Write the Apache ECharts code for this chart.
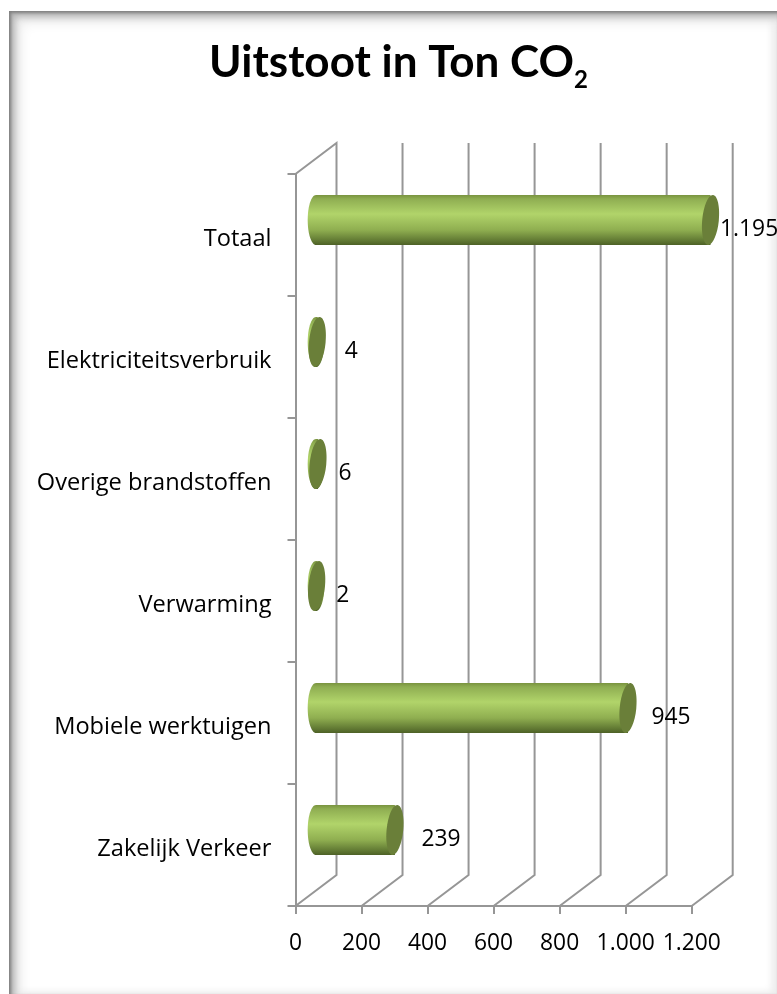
<!DOCTYPE html>
<html>
<head>
<meta charset="utf-8">
<title>Uitstoot in Ton CO2</title>
<style>
  html, body { margin: 0; padding: 0; background: #fff; overflow: hidden; }
  #frame {
    position: absolute; left: 9px; top: 11px; width: 768px; height: 983px;
    box-shadow: inset 2px 2px 3px #808080, inset 6px 6px 7px #b4b4b4, inset 12px 12px 12px #ececec, inset -6px -3px 6px #eeeeee;
  }
  #chart { position: absolute; left: 0; top: 0; width: 777px; height: 994px; }
</style>
<script src="https://cdn.jsdelivr.net/npm/echarts@6/dist/echarts.min.js"></script>
</head>
<body>
<div id="frame"></div>
<div id="chart"></div>
<script>
const categories = ['Zakelijk Verkeer', 'Mobiele werktuigen', 'Verwarming', 'Overige brandstoffen', 'Elektriciteitsverbruik', 'Totaal'];
const uitstoot = [239, 945, 2, 6, 4, 1195];
const xTicks = [0, 200, 400, 600, 800, 1000, 1200];

// hand placed labels in the original, px right of the value
const labelGap = [47, 44, 40, 41, 48, 30];

const FONT = '"Open Sans"';
const TITLE_FONT = 'Lato';
const DEPTH_X = 41;
const DEPTH_Y = 31;
const LINE = '#969696';

const fmt = v => String(v).replace(/\B(?=(\d{3})+$)/g, '.');

function renderWall(params, api) {
  let cs = params.coordSys;
  let x = api.coord([api.value(0), 0])[0];
  let bottom = cs.y + cs.height;
  let top = cs.y;
  let points = [[x, bottom], [x + DEPTH_X, bottom - DEPTH_Y], [x + DEPTH_X, top - DEPTH_Y]];
  if (api.value(0) === 0) points.push([x, top]);
  return {
    type: 'polyline',
    shape: { points: points },
    style: { stroke: LINE, lineWidth: 2, fill: null }
  };
}

function renderBar(params, api) {
  let start = api.coord([0, api.value(1)]);
  let end = api.coord([api.value(0), api.value(1)]);
  let band = api.size([0, 1])[1];
  let h = band * 0.41;
  let ry = h / 2;
  let rx = 8.3;
  let cy = start[1] - DEPTH_Y / 2 + 0.5;
  let x0 = start[0] + DEPTH_X / 2;
  let x1 = end[0] + DEPTH_X / 2;
  let body = new echarts.graphic.LinearGradient(0, 0, 0, 1, [
    { offset: 0, color: '#79933f' },
    { offset: 0.08, color: '#8fae52' },
    { offset: 0.38, color: '#b1d46a' },
    { offset: 0.7, color: '#8fae50' },
    { offset: 0.92, color: '#5f7732' },
    { offset: 1, color: '#4d6126' }
  ]);
  return {
    type: 'group',
    children: [
      { type: 'ellipse', shape: { cx: x0, cy: cy, rx: rx, ry: ry }, style: { fill: body } },
      { type: 'rect', shape: { x: x0, y: cy - ry, width: x1 - x0, height: h }, style: { fill: body } },
      {
        type: 'ellipse', x: x1, y: cy, rotation: -0.1,
        shape: { cx: 0, cy: 0, rx: rx, ry: ry },
        style: { fill: '#6a7f39' }
      },
      {
        type: 'text',
        style: {
          x: end[0] + labelGap[params.dataIndex], y: start[1] - 5,
          text: fmt(api.value(0)),
          font: '22.8px ' + FONT, fill: '#000',
          align: 'left', verticalAlign: 'middle'
        }
      }
    ]
  };
}

let chart = echarts.init(document.querySelector('#chart'), null, { renderer: 'canvas' });
let option = {
  animation: false,
  backgroundColor: 'transparent',
  title: {
    text: '{a|Uitstoot in Ton CO}{b|2}',
    left: 393.5,
    top: 29,
    textAlign: 'center',
    textStyle: {
      rich: {
        a: { fontFamily: TITLE_FONT, fontSize: 44, fontWeight: 'bold', color: '#000', lineHeight: 52 },
        b: { fontFamily: TITLE_FONT, fontSize: 24, fontWeight: 'bold', color: '#000', verticalAlign: 'bottom', lineHeight: 58 }
      }
    }
  },
  grid: { left: 295.5, right: 85.3, top: 174, bottom: 88 },
  xAxis: {
    type: 'value',
    min: 0,
    max: 1200,
    interval: 200,
    axisLine: { show: true, lineStyle: { color: LINE, width: 2 } },
    axisTick: { show: true, length: 8, lineStyle: { color: LINE, width: 2 } },
    splitLine: { show: false },
    axisLabel: { margin: 26, color: '#000', fontFamily: FONT, fontSize: 22.8, formatter: v => fmt(v), hideOverlap: false }
  },
  yAxis: {
    type: 'category',
    data: categories,
    axisLine: { show: true, onZero: false, lineStyle: { color: LINE, width: 2 } },
    axisTick: { show: true, length: 8, alignWithLabel: false, lineStyle: { color: LINE, width: 2 } },
    // top aligned with a short line box, pushes the text a few px under the band centre
    axisLabel: { margin: 24, color: '#000', fontFamily: FONT, fontSize: 23.6, interval: 0, verticalAlign: 'top', lineHeight: 8 }
  },
  series: [
    {
      type: 'custom',
      name: 'wand',
      renderItem: renderWall,
      clip: false,
      silent: true,
      encode: { x: 0 },
      data: xTicks.map(v => [v]),
      z: 1
    },
    {
      type: 'custom',
      name: 'Uitstoot',
      renderItem: renderBar,
      clip: false,
      encode: { x: 0, y: 1 },
      data: uitstoot.map((v, i) => [v, i]),
      z: 3
    }
  ]
};
chart.setOption(option);
window.addEventListener('resize', () => { chart.resize(); });
</script>
</body>
</html>
